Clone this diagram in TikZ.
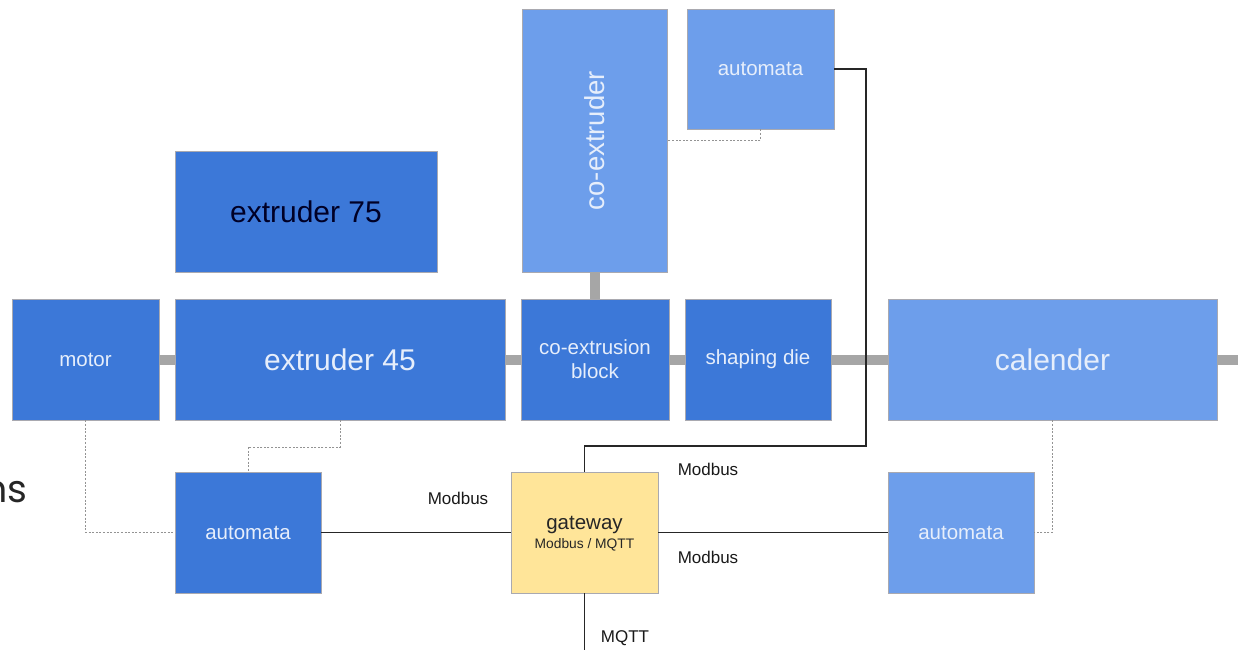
\documentclass[tikz,border=0pt]{standalone}
\usepackage{fontspec}
\setmainfont{Liberation Sans}
\newfontfamily\geofont{Poppins}
\definecolor{darkblue}{HTML}{3C78D8}
\definecolor{lightblue}{HTML}{6D9EEB}
\definecolor{gatewayyellow}{HTML}{FFE599}
\definecolor{shaftgray}{HTML}{A6A6A6}
\definecolor{paletext}{HTML}{E6EEFB}
\definecolor{outline}{HTML}{A9A9B0}
\begin{document}
\begin{tikzpicture}[x=1pt,y=-1pt,
  block/.style={draw=outline,line width=0.7pt,inner sep=0pt,align=center,text=paletext},
  darkblock/.style={block,fill=darkblue},
  lightblock/.style={block,fill=lightblue},
  bigtext/.style={font=\fontsize{30}{34}\selectfont},
  smalltext/.style={font=\fontsize{20.5}{24}\selectfont},
  shaft/.style={draw=shaftgray,line width=10pt},
  signal/.style={draw=black!85,line width=1.1pt},
  sensorlink/.style={draw=gray!85,line width=1pt,dash pattern=on 2pt off 1.6pt},
  buslabel/.style={font=\fontsize{17}{20}\selectfont,text=black!90,inner sep=0pt}]
\useasboundingbox (0,0) rectangle (1238,650);

% machine chain
\node[darkblock,smalltext,minimum width=147pt,minimum height=121pt] (motor) at (85.5,359.5) {motor};
\node[darkblock,bigtext,minimum width=330pt,minimum height=121pt] (ext45) at (340,359.5) {extruder 45};
\node[darkblock,bigtext,minimum width=262pt,minimum height=121pt,text=black!85!blue] (ext75) at (306,211.5) {extruder 75};
\node[lightblock,minimum width=145pt,minimum height=263pt] (coext) at (594.5,140.5) {};
\node[text=paletext,font=\fontsize{27.5}{30}\selectfont,rotate=90,inner sep=0pt] (coextlabel) at (coext.center) {co-extruder};
\node[lightblock,smalltext,minimum width=147pt,minimum height=120pt] (autotop) at (760.5,69) {automata};
\node[darkblock,smalltext,minimum width=148pt,minimum height=121pt] (coblock) at (595,359.5) {co-extrusion\\block};
\node[darkblock,smalltext,minimum width=146pt,minimum height=121pt] (shaping) at (758,359.5) {shaping die};
\node[lightblock,bigtext,minimum width=329pt,minimum height=121pt] (calender) at (1052.5,359.5) {calender};

% control layer
\node[darkblock,smalltext,minimum width=146pt,minimum height=121pt] (autoleft) at (248,532.5) {automata};
\node[block,fill=gatewayyellow,minimum width=147pt,minimum height=121pt] (gateway) at (584.5,532.5) {};
\node[text=black!85,font=\fontsize{20.5}{22}\selectfont,inner sep=0pt] (gwtitle) at (584.5,525) {gateway};
\node[text=black!85,font=\fontsize{13.8}{16}\selectfont,inner sep=0pt] (gwsub) at (584.5,545) {Modbus / MQTT};
\node[lightblock,smalltext,minimum width=146pt,minimum height=121pt] (autoright) at (961,532.5) {automata};

% helper points
\coordinate (outlet) at (1238,359.5);
\coordinate (ext45drop) at (248,447);
\coordinate (toptap) at (760.5,140);
\coordinate (busturn) at (866,446);
\coordinate (mqttend) at (584.5,650);

% mechanical shafts
\draw[shaft] (motor.east) -- (ext45.west);
\draw[shaft] (ext45.east) -- (coblock.west);
\draw[shaft] (coblock.east) -- (shaping.west);
\draw[shaft] (shaping.east) -- (calender.west);
\draw[shaft] (calender.east) -- (outlet);
\draw[shaft] (coext.south) -- (coext.south |- coblock.north);

% sensor wiring
\draw[sensorlink] (ext45.south) |- (ext45drop) -- (autoleft.north);
\draw[sensorlink] (motor.south) |- (autoleft.west);
\draw[sensorlink] (autotop.south) -- (toptap) -- (toptap -| coext.east);
\draw[sensorlink] (calender.south) |- (autoright.east);

% field bus
\draw[signal] (autoleft.east) -- (gateway.west);
\draw[signal] (gateway.east) -- (autoright.west);
\draw[signal] (gateway.north) |- (busturn) |- (autotop.east);
\draw[signal] (gateway.south) -- (mqttend);

% bus labels
\node[buslabel] (lblleft) at (458,498) {Modbus};
\node[buslabel] (lbltop) at (708,469) {Modbus};
\node[buslabel] (lblright) at (708,557) {Modbus};
\node[buslabel] (lblmqtt) at (625,638) {MQTT};

% partial caption at the left edge
\node[font=\geofont\fontsize{38}{40}\selectfont,text=black!85,anchor=base east,inner sep=0pt] (caption) at (28,502) {ns};
\end{tikzpicture}
\end{document}
